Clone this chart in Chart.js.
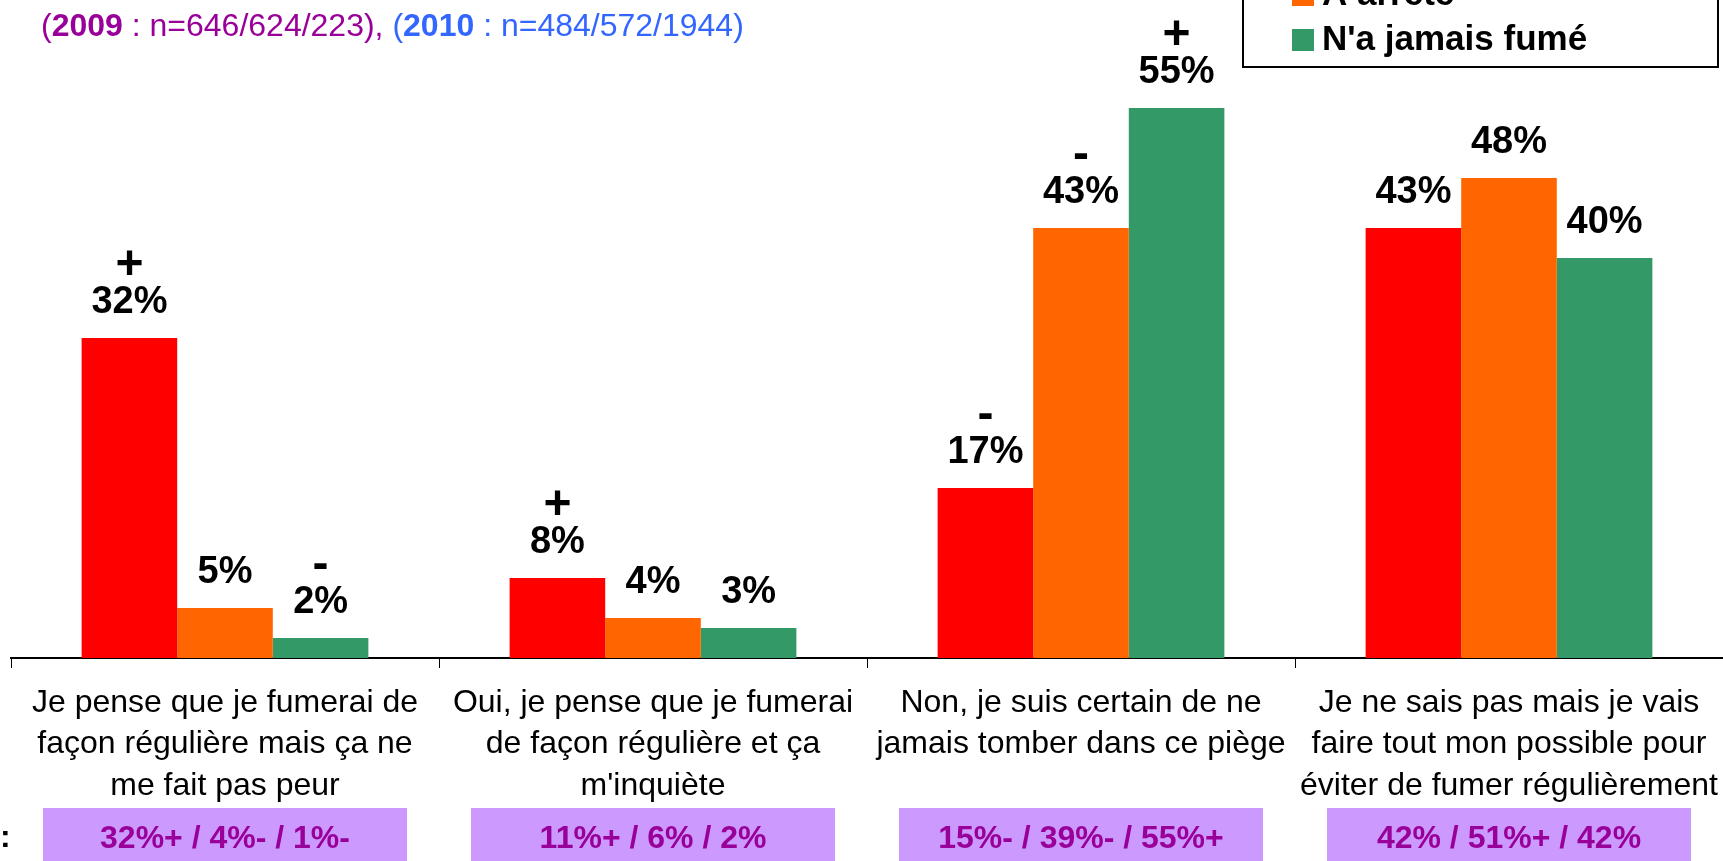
<!DOCTYPE html>
<html>
<head>
<meta charset="utf-8">
<title>Projection tabac</title>
<script src="https://cdn.jsdelivr.net/npm/chart.js@4/dist/chart.umd.min.js"></script>
<style>
    html, body { margin: 0; padding: 0; background: #fff; overflow: hidden; }
    #wrap { position: relative; width: 1723px; height: 861px; }
</style>
</head>
<body>
<div id="wrap"><canvas id="chart" width="1723" height="861"></canvas></div>
<script>
// answers (x axis), one entry per line of the label
var categories = [
    ['Je pense que je fumerai de', 'façon régulière mais ça ne', 'me fait pas peur'],
    ['Oui, je pense que je fumerai', 'de façon régulière et ça', "m'inquiète"],
    ['Non, je suis certain de ne', 'jamais tomber dans ce piège'],
    ['Je ne sais pas mais je vais', 'faire tout mon possible pour', 'éviter de fumer régulièrement']
];

var seriesNames = ['Fumeur', 'A arrêté', "N'a jamais fumé"];
var seriesColors = ['#FF0000', '#FF6600', '#339966'];

// % per answer, 2010
var fumeur = [32, 8, 17, 43];
var arrete = [5, 4, 43, 48];
var jamaisFume = [2, 3, 55, 40];

// significance marks shown above each bar
var fumeurSig = ['+', '+', '-', ''];
var arreteSig = ['', '', '-', ''];
var jamaisFumeSig = ['-', '', '+', ''];

// 2009 results, shown in the boxes under each answer
var rappel2009 = ['32%+ / 4%- / 1%-', '11%+ / 6% / 2%', '15%- / 39%- / 55%+', '42% / 51%+ / 42%'];

var FONT = '"Liberation Sans", Arial, sans-serif';

// bar value + sign above it
var valueLabels = {
    id: 'valueLabels',
    afterDatasetsDraw: function (chart) {
        var ctx = chart.ctx;
        ctx.save();
        ctx.fillStyle = '#000';
        ctx.textAlign = 'center';
        ctx.textBaseline = 'alphabetic';
        chart.data.datasets.forEach(function (ds, i) {
            chart.getDatasetMeta(i).data.forEach(function (bar, j) {
                var y = bar.y - 25;
                ctx.font = 'bold 38px ' + FONT;
                ctx.fillText(ds.data[j] + '%', bar.x, y);
                if (ds.signs[j]) {
                    ctx.font = 'bold 48px ' + FONT;
                    ctx.fillText(ds.signs[j], bar.x, y - 34);
                }
            });
        });
        ctx.restore();
    }
};

// subtitle, legend box and the 2009 boxes
var extras = {
    id: 'extras',
    afterDraw: function (chart) {
        var ctx = chart.ctx;
        ctx.save();

        // sample sizes line
        var parts = [
            {t: '(', c: '#990099', b: false},
            {t: '2009', c: '#990099', b: true},
            {t: ' : n=646/624/223), ', c: '#990099', b: false},
            {t: '(', c: '#3366FF', b: false},
            {t: '2010', c: '#3366FF', b: true},
            {t: ' : n=484/572/1944)', c: '#3366FF', b: false}
        ];
        var x = 41;
        ctx.textBaseline = 'alphabetic';
        ctx.textAlign = 'left';
        parts.forEach(function (p) {
            ctx.font = (p.b ? 'bold ' : '') + '32px ' + FONT;
            ctx.fillStyle = p.c;
            ctx.fillText(p.t, x, 36);
            x += ctx.measureText(p.t).width;
        });

        // legend
        ctx.strokeStyle = '#000';
        ctx.lineWidth = 2;
        ctx.strokeRect(1243, -80, 475, 147);
        ctx.font = 'bold 35px ' + FONT;
        chart.data.datasets.forEach(function (ds, i) {
            var base = 50 - (chart.data.datasets.length - 1 - i) * 45;
            ctx.fillStyle = ds.backgroundColor;
            ctx.fillRect(1292, base - 21, 22, 22);
            ctx.fillStyle = '#000';
            ctx.fillText(ds.label, 1322, base);
        });

        // 2009 boxes
        var xs = chart.scales.x;
        ctx.textAlign = 'center';
        ctx.textBaseline = 'middle';
        ctx.font = 'bold 32px ' + FONT;
        rappel2009.forEach(function (txt, i) {
            var cx = xs.getPixelForValue(i);
            ctx.fillStyle = '#CC99FF';
            ctx.fillRect(cx - 182, 808, 364, 60);
            ctx.fillStyle = '#990099';
            ctx.fillText(txt, cx, 839);
        });

        ctx.fillStyle = '#000';
        ctx.font = 'bold 32px ' + FONT;
        ctx.textAlign = 'left';
        ctx.textBaseline = 'alphabetic';
        ctx.fillText(':', 0, 847);
        ctx.restore();
    }
};

var chart = new Chart(document.getElementById('chart'), {
    type: 'bar',
    data: {
        labels: categories,
        datasets: [
            {label: seriesNames[0], data: fumeur, signs: fumeurSig, backgroundColor: seriesColors[0]},
            {label: seriesNames[1], data: arrete, signs: arreteSig, backgroundColor: seriesColors[1]},
            {label: seriesNames[2], data: jamaisFume, signs: jamaisFumeSig, backgroundColor: seriesColors[2]}
        ]
    },
    options: {
        responsive: false,
        animation: false,
        devicePixelRatio: 1,
        layout: {padding: {top: 58, left: 11, right: -4, bottom: 0}},
        datasets: {bar: {categoryPercentage: 0.67, barPercentage: 1}},
        plugins: {legend: {display: false}, tooltip: {enabled: false}},
        scales: {
            x: {
                grid: {drawOnChartArea: false, color: '#000', tickLength: 10, lineWidth: 1},
                border: {color: '#000', width: 2},
                ticks: {
                    color: '#000',
                    font: {family: FONT, size: 32, lineHeight: 1.3},
                    padding: 14,
                    maxRotation: 0,
                    autoSkip: false
                },
                afterFit: function (scale) {
                    // long last label must not shrink the plot
                    scale.height = 203;
                    scale.paddingLeft = 0;
                    scale.paddingRight = 0;
                }
            },
            y: {display: false, min: 0, max: 60}
        }
    },
    plugins: [valueLabels, extras]
});
</script>
</body>
</html>
